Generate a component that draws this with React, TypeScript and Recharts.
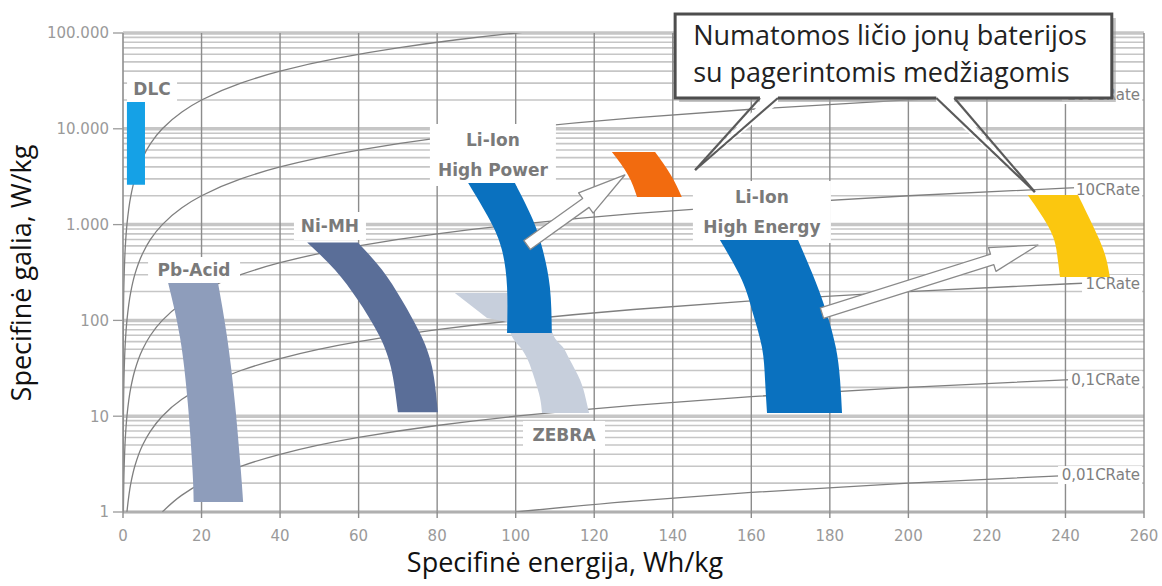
import React from 'react';
import {
  ComposedChart,
  Area,
  Line,
  XAxis,
  YAxis,
  CartesianGrid,
  ReferenceDot,
  ReferenceLine,
  ReferenceArea,
} from 'recharts';

// ---- axes ----
const X_TICKS = [0, 20, 40, 60, 80, 100, 120, 140, 160, 180, 200, 220, 240, 260];
const DECADES = [1, 10, 100, 1000, 10000, 100000];
const DECADE_LABELS = ['1', '10', '100', '1.000', '10.000', '100.000'];
const MINOR_STEPS = [1, 2, 3, 4, 5, 6, 7, 8, 9];

// ---- C-rate curves: [energija Wh/kg, galia W/kg] ----
const RATE_1000C = [[0.001, 1], [0.01, 10], [0.1, 100], [0.3, 300], [0.6, 600], [1, 1000], [2, 2000], [3, 3000], [5, 5000], [7, 7000], [10, 10000], [15, 15000], [20, 20000], [30, 30000], [40, 40000], [55, 55000], [70, 70000], [85, 85000], [100, 100000], [110, 110000]];
const RATE_100C = [[0.01, 1], [0.05, 5], [0.1, 10], [0.3, 30], [0.6, 60], [1, 100], [2, 200], [3, 300], [5, 500], [7, 700], [10, 1000], [15, 1500], [20, 2000], [30, 3000], [40, 4000], [60, 6000], [80, 8000], [100, 10000], [130, 13000], [160, 16000], [200, 20000], [240, 24000], [255, 25500]];
const RATE_10C = [[0.1, 1], [0.3, 3], [0.6, 6], [1, 10], [2, 20], [3, 30], [5, 50], [7, 70], [10, 100], [15, 150], [20, 200], [30, 300], [40, 400], [60, 600], [80, 800], [100, 1000], [130, 1300], [160, 1600], [200, 2000], [240, 2400], [255, 2550]];
const RATE_1C = [[1, 1], [2, 2], [3, 3], [5, 5], [7, 7], [10, 10], [15, 15], [20, 20], [30, 30], [40, 40], [60, 60], [80, 80], [100, 100], [130, 130], [160, 160], [200, 200], [240, 240], [255, 255]];
const RATE_01C = [[10, 1], [15, 1.5], [20, 2], [30, 3], [40, 4], [60, 6], [80, 8], [100, 10], [130, 13], [160, 16], [200, 20], [240, 24], [255, 25.5]];
const RATE_001C = [[100, 1], [130, 1.3], [160, 1.6], [200, 2], [240, 2.4], [255, 2.55]];

const RATE_LABELS = ['0,01CRate', '0,1CRate', '1CRate', '10CRate', '100CRate'];
const RATE_LABEL_P = [2.43, 24, 240, 2300, 22500];
const RATE_LABEL_W = [84, 74, 60, 68, 80];

// ---- technology regions: [galia, kairė energija, dešinė energija] ----
const DLC = [[2600, 1.0, 5.6], [19000, 1.0, 5.6]];
const PB_ACID = [[1.27, 18.0, 30.6], [2.74, 17.7, 30.0], [13.7, 16.5, 28.5], [67, 14.5, 26.5], [246, 11.5, 24.2]];
const NI_MH = [[11, 70.0, 80.2], [32.6, 68.2, 78.7], [74, 64.9, 75.6], [163, 59.8, 71.0], [336, 54.0, 66.0], [650, 46.9, 59.8]];
const ZEBRA_TOP = [[96, 97.8, 108.5], [106, 92.7, 108.2], [193, 84.5, 106.2]];
const ZEBRA = [[10.8, 106.7, 118.7], [15.5, 106.2, 117.8], [23.9, 104.9, 116.4], [38.6, 103.1, 113.8], [52.7, 101.1, 112.0], [65, 99.3, 110.0], [96, 97.8, 108.5]];
const LI_HP = [[74, 97.8, 109.2], [223, 97.8, 108.7], [543, 96.5, 106.9], [1117, 93.4, 104.4], [2720, 87.9, 99.8]];
const LI_HE = [[10.8, 164.0, 183.1], [23.9, 163.5, 182.6], [52.7, 162.7, 181.5], [119, 160.4, 179.2], [264, 157.6, 176.2], [690, 152.0, 171.9]];
const FUTURE_HP = [[1940, 130.9, 142.3], [3296, 128.6, 139.5], [5730, 124.5, 135.5]];
const FUTURE_HE = [[284, 238.6, 251.3], [482, 237.9, 250.1], [879, 236.1, 247.5], [2037, 230.4, 243.2]];

// ---- annotations ----
const TAGS = [
  { lines: ['DLC'], e: 7.4, p: 26000, w: 50, h: 26 },
  { lines: ['Pb-Acid'], e: 18.1, p: 336, w: 92, h: 26 },
  { lines: ['Ni-MH'], e: 52.7, p: 967, w: 72, h: 28 },
  { lines: ['Li-Ion', 'High Power'], e: 94.2, p: 5330, w: 126, h: 62 },
  { lines: ['Li-Ion', 'High Energy'], e: 162.7, p: 1353, w: 138, h: 62 },
  { lines: ['ZEBRA'], e: 112.3, p: 6.37, w: 82, h: 28 },
];
const ARROWS = [
  [[102.9, 612], [127.8, 3296]],
  [[178, 119], [233, 612]],
];
const CALLOUT_LINES = ['Numatomos ličio jonų baterijos', 'su pagerintomis medžiagomis'];
const CALLOUT_BOX = { e1: 140.6, e2: 251.8, p1: 20970, p2: 157800 };
const CALLOUT_TAILS = [
  [[164.5, 20970], [145.7, 3715]],
  [[209.4, 20970], [232.2, 2188]],
];

const GRID_TICKS = [...DECADES.slice(0, 5).flatMap((d) => MINOR_STEPS.map((k) => d * k)), 100000];
const toRows = (pts: number[][]) => pts.map(([e, p]) => ({ e, p }));
const toBand = (rows: number[][]) => rows.map(([p, l, r]) => ({ p, e: [l, r] }));

const RATE_CURVES = [RATE_1000C, RATE_100C, RATE_10C, RATE_1C, RATE_01C, RATE_001C];
const BANDS = [
  { data: DLC, fill: '#15a1e6', type: 'linear' },
  { data: PB_ACID, fill: '#8e9dbb', type: 'natural' },
  { data: NI_MH, fill: '#5a6e98', type: 'natural' },
  { data: ZEBRA_TOP, fill: '#c7cfdc', type: 'linear' },
  { data: ZEBRA, fill: '#c7cfdc', type: 'natural' },
  { data: LI_HP, fill: '#0a71bf', type: 'natural' },
  { data: LI_HE, fill: '#0a71bf', type: 'natural' },
  { data: FUTURE_HP, fill: '#f26b0f', type: 'natural' },
  { data: FUTURE_HE, fill: '#fbc70f', type: 'natural' },
];

const SANS = "'DejaVu Sans', Verdana, sans-serif";
const TITLE_FONT = "'Open Sans', 'Noto Sans', sans-serif";

function PowerTick(props: any) {
  const { x, y, payload } = props;
  const i = DECADES.indexOf(payload.value);
  if (i < 0) return <g />;
  return (
    <g>
      <line x1={x + 4} x2={x + 14} y1={y} y2={y} stroke="#9a9a9a" strokeWidth={1.3} />
      <text x={x} y={y} dy="0.36em" textAnchor="end" fontFamily={SANS} fontSize={15} fill="#9a9a9a">
        {DECADE_LABELS[i]}
      </text>
    </g>
  );
}

function Tag({ cx, cy, lines, w, h, anchor = 'middle', size = 17, bold = true, color = '#7a7a7a' }: any) {
  if (cx == null || cy == null) return null;
  const left = anchor === 'end' ? cx - w : cx - w / 2;
  const tx = anchor === 'end' ? cx - 2 : cx;
  return (
    <g>
      <rect x={left} y={cy - h / 2} width={w} height={h} fill="#fff" />
      {lines.map((t: string, i: number) => (
        <text
          key={i}
          x={tx}
          y={cy + (i - (lines.length - 1) / 2) * 30}
          dy="0.36em"
          textAnchor={anchor}
          fontFamily={SANS}
          fontWeight={bold ? 700 : 400}
          fontSize={size}
          fill={color}
        >
          {t}
        </text>
      ))}
    </g>
  );
}

function BlockArrow(props: any) {
  const { x1, y1, x2, y2 } = props;
  if (x1 == null || x2 == null) return null;
  const len = Math.hypot(x2 - x1, y2 - y1);
  const ux = (x2 - x1) / len;
  const uy = (y2 - y1) / len;
  const nx = -uy;
  const ny = ux;
  const w = 5.5;
  const hw = 12.5;
  const hl = 48;
  const bx = x2 - ux * hl;
  const by = y2 - uy * hl;
  const pts = [
    [x1 + nx * w, y1 + ny * w],
    [bx + nx * w, by + ny * w],
    [bx + nx * hw, by + ny * hw],
    [x2, y2],
    [bx - nx * hw, by - ny * hw],
    [bx - nx * w, by - ny * w],
    [x1 - nx * w, y1 - ny * w],
  ];
  return (
    <polygon
      points={pts.map((q) => q.join(',')).join(' ')}
      fill="#ffffff"
      stroke="#8a8a8a"
      strokeWidth={1.3}
      strokeLinejoin="round"
    />
  );
}

function CalloutBox(props: any) {
  const { x, y, width, height } = props;
  if (x == null) return null;
  return (
    <g>
      <rect x={x + 4} y={y + 4} width={width} height={height} fill="#9c9c9c" opacity={0.6} />
      <rect x={x} y={y} width={width} height={height} fill="#fff" stroke="#4d4d4d" strokeWidth={3} />
      {CALLOUT_LINES.map((t, i) => (
        <text key={i} x={x + 18} y={y + 31 + i * 37} fontFamily={TITLE_FONT} fontSize={27} fill="#222">
          {t}
        </text>
      ))}
    </g>
  );
}

function CalloutTail(props: any) {
  const { x1, y1, x2, y2 } = props;
  if (x1 == null || x2 == null) return null;
  const hw = 9;
  return (
    <g>
      <polygon points={`${x1 - hw},${y1 - 5} ${x1 + hw},${y1 - 5} ${x1 + hw},${y1 + 6} ${x2},${y2} ${x1 - hw},${y1 + 6}`} fill="#fff" />
      <line x1={x1 - hw} y1={y1} x2={x2} y2={y2} stroke="#5a5a5a" strokeWidth={2.2} />
      <line x1={x1 + hw} y1={y1} x2={x2} y2={y2} stroke="#5a5a5a" strokeWidth={2.2} />
    </g>
  );
}

export default function App() {
  return (
    <div style={{ position: 'absolute', left: 0, top: 0, background: '#fff' }}>
      <ComposedChart
        width={1162}
        height={586}
        layout="vertical"
        margin={{ top: 33, right: 18, bottom: 0, left: 0 }}
      >
        <CartesianGrid
          horizontal={(p: any) => (
            <line
              key={p.key}
              x1={p.x1}
              x2={p.x2}
              y1={p.y1}
              y2={p.y2}
              stroke="#c6c6c6"
              strokeWidth={p.index % 9 === 0 ? 3.5 : 1.6}
            />
          )}
          vertical={(p: any) => (
            <line key={p.key} x1={p.x1} x2={p.x2} y1={p.y1} y2={p.y2} stroke="#8c8c8c" strokeWidth={1.4} />
          )}
        />
        <XAxis
          type="number"
          domain={[0, 260]}
          ticks={X_TICKS}
          interval={0}
          allowDataOverflow
          height={74}
          tickSize={6}
          tickMargin={12}
          axisLine={{ stroke: '#9a9a9a' }}
          tickLine={{ stroke: '#8c8c8c', strokeWidth: 1.4 }}
          tick={{ fill: '#9a9a9a', fontSize: 15, fontFamily: SANS }}
          label={{
            content: () => (
              <text x={565} y={572} textAnchor="middle" fontFamily={TITLE_FONT} fontSize={27} fill="#111">
                Specifinė energija, Wh/kg
              </text>
            ),
          }}
        />
        <YAxis
          type="number"
          dataKey="p"
          scale="log"
          domain={[1, 100000]}
          reversed
          allowDataOverflow
          ticks={GRID_TICKS}
          interval={0}
          width={123}
          tickSize={10}
          tickMargin={4}
          tickLine={false}
          axisLine={{ stroke: '#9a9a9a' }}
          tick={(p: any) => <PowerTick {...p} />}
          label={{
            content: () => (
              <text
                x={31}
                y={273}
                transform="rotate(-90 31 273)"
                textAnchor="middle"
                fontFamily={TITLE_FONT}
                fontSize={27}
                fill="#111"
              >
                Specifinė galia, W/kg
              </text>
            ),
          }}
        />

        {RATE_CURVES.map((c, i) => (
          <Line
            key={`rate-${i}`}
            data={toRows(c)}
            dataKey="e"
            type="monotone"
            stroke="#7f7f7f"
            strokeWidth={1.3}
            dot={false}
            activeDot={false}
            isAnimationActive={false}
            zIndex={10}
          />
        ))}

        {RATE_LABELS.map((t, i) => (
          <ReferenceDot
            key={`rl-${i}`}
            x={259.5}
            y={RATE_LABEL_P[i]}
            ifOverflow="visible"
            zIndex={20}
            shape={(p: any) => (
              <Tag cx={p.cx} cy={p.cy} lines={[t]} w={RATE_LABEL_W[i]} h={18} anchor="end" size={15} bold={false} color="#808080" />
            )}
          />
        ))}

        {TAGS.map((t, i) => (
          <ReferenceDot
            key={`tag-${i}`}
            x={t.e}
            y={t.p}
            ifOverflow="visible"
            zIndex={20}
            shape={(p: any) => <Tag cx={p.cx} cy={p.cy} lines={t.lines} w={t.w} h={t.h} />}
          />
        ))}

        {BANDS.map((b, i) => (
          <Area
            key={`band-${i}`}
            data={toBand(b.data)}
            dataKey="e"
            type={b.type as any}
            fill={b.fill}
            fillOpacity={1}
            stroke="none"
            dot={false}
            activeDot={false}
            isAnimationActive={false}
            zIndex={30}
          />
        ))}

        {ARROWS.map((a, i) => (
          <ReferenceLine
            key={`arrow-${i}`}
            segment={[{ x: a[0][0], y: a[0][1] }, { x: a[1][0], y: a[1][1] }]}
            ifOverflow="visible"
            zIndex={40}
            shape={(p: any) => <BlockArrow {...p} />}
          />
        ))}

        <ReferenceArea
          x1={CALLOUT_BOX.e1}
          x2={CALLOUT_BOX.e2}
          y1={CALLOUT_BOX.p1}
          y2={CALLOUT_BOX.p2}
          ifOverflow="visible"
          zIndex={50}
          shape={(p: any) => <CalloutBox {...p} />}
        />

        {CALLOUT_TAILS.map((a, i) => (
          <ReferenceLine
            key={`tail-${i}`}
            segment={[{ x: a[0][0], y: a[0][1] }, { x: a[1][0], y: a[1][1] }]}
            ifOverflow="visible"
            zIndex={60}
            shape={(p: any) => <CalloutTail {...p} />}
          />
        ))}
      </ComposedChart>
    </div>
  );
}
